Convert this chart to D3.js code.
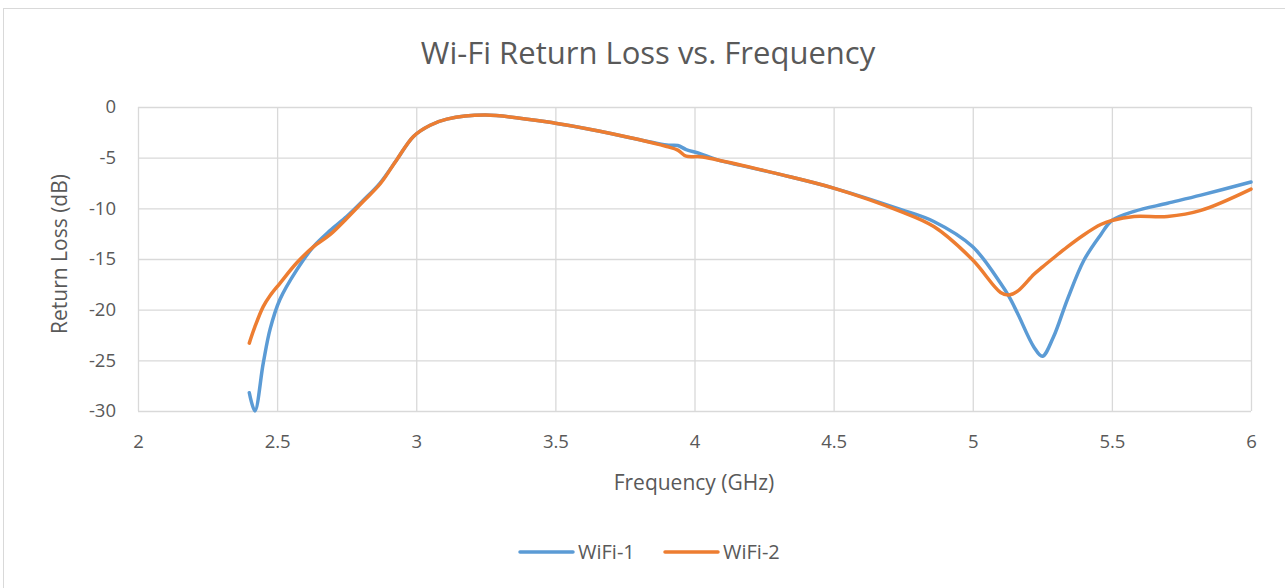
<!DOCTYPE html>
<html>
<head>
<meta charset="utf-8">
<script src="https://cdn.jsdelivr.net/npm/d3@7"></script>
<style>
  body { margin: 0; background: #fff; }
  text { font-family: "Open Sans", sans-serif; fill: #595959; }
</style>
</head>
<body>
<div id="chart"></div>
<script>
// Frequencies (GHz)
const freqs = [2.40, 2.42, 2.45, 2.475, 2.51, 2.57, 2.63, 2.69, 2.75, 2.81, 2.87, 2.93, 2.99,
  3.05, 3.11, 3.25, 3.5, 3.66, 3.9, 3.94, 3.97, 4.02, 4.08, 4.3, 4.5, 4.74, 4.86, 5.0,
  5.1, 5.13, 5.16, 5.22, 5.25, 5.29, 5.34, 5.40, 5.46, 5.5, 5.58, 5.70, 5.82, 6.0];

// Return loss (dB)
const wifi1 = [-28.2, -30, -25.3, -21.9, -19.0, -16.1, -13.8, -12.2, -10.8, -9.2, -7.5, -5.2, -2.9,
  -1.8, -1.2, -0.8, -1.6, -2.4, -3.75, -3.8, -4.2, -4.6, -5.2, -6.6, -8.0, -10.1, -11.3, -13.8,
  -17.4, -18.7, -20.3, -23.7, -24.6, -22.7, -19.0, -15.1, -12.6, -11.2, -10.3, -9.5, -8.7, -7.4];
const wifi2 = [-23.3, -21.7, -19.7, -18.6, -17.4, -15.4, -13.8, -12.6, -11.0, -9.3, -7.6, -5.2, -2.9,
  -1.8, -1.2, -0.8, -1.6, -2.4, -3.9, -4.25, -4.85, -4.9, -5.2, -6.6, -8.0, -10.3, -11.8, -15.1,
  -18.3, -18.55, -18.2, -16.5, -15.8, -14.9, -13.8, -12.6, -11.6, -11.2, -10.8, -10.8, -10.2, -8.1];

const seriesNames = ["WiFi-1", "WiFi-2"];
const seriesColors = ["#5b9bd5", "#ed7d31"];
const xTicks = [2, 2.5, 3, 3.5, 4, 4.5, 5, 5.5, 6];
const yTicks = [0, -5, -10, -15, -20, -25, -30];

const width = 1285, height = 588;
const svg = d3.select("#chart").append("svg")
  .attr("width", width)
  .attr("height", height);

// chart frame
svg.append("rect")
  .attr("x", 3.5).attr("y", 8.5)
  .attr("width", 1290).attr("height", 590)
  .attr("fill", "none")
  .attr("stroke", "#d9d9d9");

const x = d3.scaleLinear().domain([2, 6]).range([138, 1251]);
const y = d3.scaleLinear().domain([-30, 0]).range([411, 107]);

// grid
svg.append("g").selectAll("line")
  .data(yTicks).enter().append("line")
  .attr("x1", x(2)).attr("x2", x(6))
  .attr("y1", d => y(d) + 0.5).attr("y2", d => y(d) + 0.5)
  .attr("stroke", "#d9d9d9").attr("stroke-width", 1.3);

svg.append("g").selectAll("line")
  .data(xTicks).enter().append("line")
  .attr("x1", d => x(d) + 0.5).attr("x2", d => x(d) + 0.5)
  .attr("y1", y(0)).attr("y2", y(-30))
  .attr("stroke", "#d9d9d9").attr("stroke-width", 1.3);

// axes
const xAxis = svg.append("g")
  .attr("transform", `translate(0,${y(-30)})`)
  .call(d3.axisBottom(x).tickValues(xTicks).tickSize(0).tickPadding(24).tickFormat(d3.format("")));
const yAxis = svg.append("g")
  .attr("transform", `translate(${x(2)},0)`)
  .call(d3.axisLeft(y).tickValues(yTicks).tickSize(0).tickPadding(22).tickFormat(d => String(d)));
[xAxis, yAxis].forEach(a => {
  a.select(".domain").remove();
  a.selectAll("text").style("font-size", "18.5px").style("fill", "#595959")
    .style("font-family", "'Open Sans', sans-serif");
});

// lines
const line = d3.line()
  .x(d => x(d[0]))
  .y(d => y(d[1]))
  .curve(d3.curveCatmullRom.alpha(0.5));

[wifi1, wifi2].forEach((vals, i) => {
  svg.append("path")
    .datum(freqs.map((f, j) => [f, vals[j]]))
    .attr("d", line)
    .attr("fill", "none")
    .attr("stroke", seriesColors[i])
    .attr("stroke-width", 3.5)
    .attr("stroke-linecap", "round")
    .attr("stroke-linejoin", "round");
});

// title
svg.append("text")
  .attr("x", 648).attr("y", 64)
  .attr("text-anchor", "middle")
  .style("font-size", "31px")
  .text("Wi-Fi Return Loss vs. Frequency");

// axis titles
svg.append("text")
  .attr("x", 694).attr("y", 490)
  .attr("text-anchor", "middle")
  .style("font-size", "21px")
  .text("Frequency (GHz)");

svg.append("text")
  .attr("transform", "translate(67,254) rotate(-90)")
  .attr("text-anchor", "middle")
  .style("font-size", "21px")
  .text("Return Loss (dB)");

// legend
const legendX = [520, 665];
seriesNames.forEach((name, i) => {
  const g = svg.append("g").attr("transform", `translate(${legendX[i]},552)`);
  g.append("line")
    .attr("x1", 0).attr("x2", 53)
    .attr("y1", 0).attr("y2", 0)
    .attr("stroke", seriesColors[i])
    .attr("stroke-width", 3.5)
    .attr("stroke-linecap", "round");
  g.append("text")
    .attr("x", 58).attr("y", 7)
    .style("font-size", "20px")
    .text(name);
});
</script>
</body>
</html>
